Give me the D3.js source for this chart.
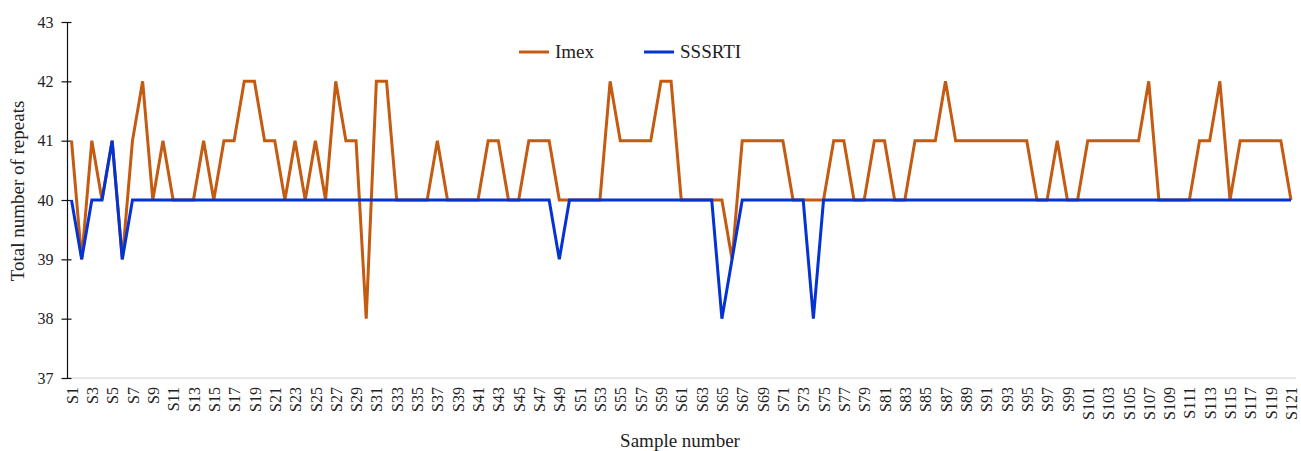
<!DOCTYPE html>
<html>
<head>
<meta charset="utf-8">
<title>Total number of repeats</title>
<script src="https://cdn.jsdelivr.net/npm/d3@7"></script>
<style>
  body { margin: 0; background: #fff; }
  svg { display: block; font-family: "Liberation Serif", "Times New Roman", serif; }
</style>
</head>
<body>
<div id="chart"></div>
<script>
// sample names S1..S121
var samples = [];
for (var i = 1; i <= 121; i++) samples.push("S" + i);

var imex = [
  41,39,41,40,41,39,41,42,40,41, 40,40,40,41,40,41,41,42,42,41,
  41,40,41,40,41,40,42,41,41,38, 42,42,40,40,40,40,41,40,40,40,
  40,41,41,40,40,41,41,41,40,40, 40,40,40,42,41,41,41,41,42,42,
  40,40,40,40,40,39,41,41,41,41, 41,40,40,40,40,41,41,40,40,41,
  41,40,40,41,41,41,42,41,41,41, 41,41,41,41,41,40,40,41,40,40,
  41,41,41,41,41,41,42,40,40,40, 40,41,41,42,40,41,41,41,41,41,
  40
];

var sssrti = [
  40,39,40,40,41,39,40,40,40,40, 40,40,40,40,40,40,40,40,40,40,
  40,40,40,40,40,40,40,40,40,40, 40,40,40,40,40,40,40,40,40,40,
  40,40,40,40,40,40,40,40,39,40, 40,40,40,40,40,40,40,40,40,40,
  40,40,40,40,38,39,40,40,40,40, 40,40,40,38,40,40,40,40,40,40,
  40,40,40,40,40,40,40,40,40,40, 40,40,40,40,40,40,40,40,40,40,
  40,40,40,40,40,40,40,40,40,40, 40,40,40,40,40,40,40,40,40,40,
  40
];

var yTicks = [37, 38, 39, 40, 41, 42, 43];

var W = 1301, H = 451;
var svg = d3.select("#chart").append("svg").attr("width", W).attr("height", H);

var x = d3.scalePoint().domain(samples).range([71.5, 1291]);
var y = d3.scaleLinear().domain([37, 43]).range([378, 22]);

// x axis line (light grey)
svg.append("line")
  .attr("x1", 67).attr("x2", 1296)
  .attr("y1", y(37)).attr("y2", y(37))
  .attr("stroke", "#d0d0d0").attr("stroke-width", 1);

// x labels, every other sample
var xAxis = d3.axisBottom(x)
  .tickValues(samples.filter(function(d, i) { return i % 2 == 0; }))
  .tickSize(0).tickPadding(0);
var gx = svg.append("g").attr("transform", "translate(0," + y(37) + ")").call(xAxis);
gx.select(".domain").remove();
gx.selectAll("text")
  .attr("transform", "rotate(-90)")
  .attr("x", -9).attr("y", 0).attr("dy", "0.35em")
  .attr("text-anchor", "end")
  .attr("font-size", 16).attr("font-family", "Liberation Serif").attr("fill", "#222");

// y axis
var yAxis = d3.axisLeft(y).tickValues(yTicks).tickFormat(d3.format("d")).tickSize(6).tickPadding(8);
var gy = svg.append("g").attr("transform", "translate(67.5,0)").call(yAxis);
gy.select(".domain").attr("stroke", "#111").attr("stroke-width", 1.2).attr("d", "M0," + y(43) + "V" + y(37));
gy.selectAll(".tick line").attr("x1", -6).attr("x2", 4).attr("stroke", "#111").attr("stroke-width", 1.2);
gy.selectAll("text").attr("font-size", 16).attr("font-family", "Liberation Serif").attr("fill", "#222");

// axis titles
svg.append("text")
  .attr("transform", "translate(24,191) rotate(-90)")
  .attr("text-anchor", "middle")
  .attr("font-size", 19).attr("fill", "#222")
  .text("Total number of repeats");

svg.append("text")
  .attr("x", 680).attr("y", 447)
  .attr("text-anchor", "middle")
  .attr("font-size", 19).attr("fill", "#222")
  .text("Sample number");

// lines
var line = d3.line()
  .x(function(d, i) { return x(samples[i]); })
  .y(function(d) { return y(d); });

svg.append("path").datum(imex)
  .attr("d", line).attr("fill", "none")
  .attr("stroke", "#C55A11").attr("stroke-width", 3).attr("stroke-linejoin", "miter");

svg.append("path").datum(sssrti)
  .attr("d", line).attr("fill", "none")
  .attr("stroke", "#0433D4").attr("stroke-width", 3).attr("stroke-linejoin", "miter");

// legend
var legend = [
  { name: "Imex", color: "#C55A11", x: 519 },
  { name: "SSSRTI", color: "#0433D4", x: 644 }
];
legend.forEach(function(l) {
  svg.append("line")
    .attr("x1", l.x).attr("x2", l.x + 30)
    .attr("y1", 52).attr("y2", 52)
    .attr("stroke", l.color).attr("stroke-width", 3);
  svg.append("text")
    .attr("x", l.x + 36).attr("y", 58)
    .attr("font-size", 19).attr("fill", "#222")
    .text(l.name);
});
</script>
</body>
</html>
